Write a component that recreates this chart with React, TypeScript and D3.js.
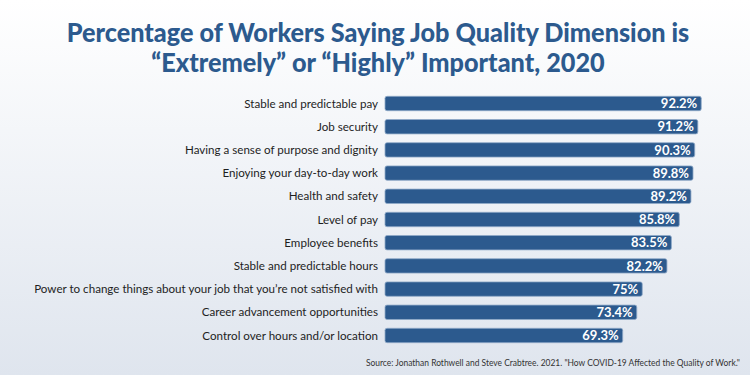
import React from 'react';
import * as d3 from 'd3';

const categories = [
  'Stable and predictable pay',
  'Job security',
  'Having a sense of purpose and dignity',
  'Enjoying your day-to-day work',
  'Health and safety',
  'Level of pay',
  'Employee benefits',
  'Stable and predictable hours',
  "Power to change things about your job that you\u2019re not satisfied with",
  'Career advancement opportunities',
  'Control over hours and/or location',
];
const values = [92.2, 91.2, 90.3, 89.8, 89.2, 85.8, 83.5, 82.2, 75, 73.4, 69.3];
const valueLabels = ['92.2%', '91.2%', '90.3%', '89.8%', '89.2%', '85.8%', '83.5%', '82.2%', '75%', '73.4%', '69.3%'];

const width = 750;
const height = 375;
const margin = { top: 94, right: 22, bottom: 30, left: 385 };
const blue = '#2c5a8e';

export default function App() {
  const x = d3.scaleLinear().domain([0, 100]).range([margin.left, width - margin.right]);
  const y = d3
    .scaleBand()
    .domain(categories)
    .range([margin.top, height - margin.bottom])
    .paddingInner(0.38)
    .paddingOuter(0.1);

  return (
    <svg
      width={width}
      height={height}
      style={{ position: 'absolute', left: 0, top: 0 }}
      fontFamily="Lato, 'Open Sans', sans-serif"
    >
      <defs>
        <linearGradient id="bg" x1="0" y1="0" x2="0" y2="1">
          <stop offset="0%" stopColor="#ffffff" />
          <stop offset="100%" stopColor="#dfe5ee" />
        </linearGradient>
      </defs>
      <rect x={0} y={0} width={width} height={height} fill="url(#bg)" />

      {/* the original title font is condensed, squeeze it horizontally */}
      <g transform="translate(378,42) scale(0.935,1)">
        <text x={0} y={0} textAnchor="middle" fontSize={27} fontWeight={900} fill={blue}>
          Percentage of Workers Saying Job Quality Dimension is
        </text>
        <text x={0} y={30} textAnchor="middle" fontSize={27} fontWeight={900} fill={blue}>
          {'\u201cExtremely\u201d or \u201cHighly\u201d Important, 2020'}
        </text>
      </g>

      {categories.map((c, i) => {
        const yy = y(c)!;
        const bh = y.bandwidth();
        return (
          <g key={c}>
            <text
              x={margin.left - 7}
              y={yy + bh / 2}
              dy="0.35em"
              textAnchor="end"
              fontSize={11.6}
              fill="#1e1e1e"
            >
              {c}
            </text>
            <rect
              x={x(0)}
              y={yy}
              width={x(values[i]) - x(0)}
              height={bh}
              rx={2}
              fill={blue}
              stroke="#8fa9c8"
              strokeWidth={0.8}
            />
            <text
              x={x(values[i]) - 4}
              y={yy + bh / 2}
              dy="0.36em"
              textAnchor="end"
              fontSize={13}
              fontWeight={700}
              fill="#ffffff"
            >
              {valueLabels[i]}
            </text>
          </g>
        );
      })}

      <g transform="translate(740,366) scale(0.845,1)">
        <text x={0} y={0} textAnchor="end" fontSize={10} fill="#333">
          {'Source: Jonathan Rothwell and Steve Crabtree. 2021. "How COVID-19 Affected the Quality of Work."'}
        </text>
      </g>
    </svg>
  );
}
